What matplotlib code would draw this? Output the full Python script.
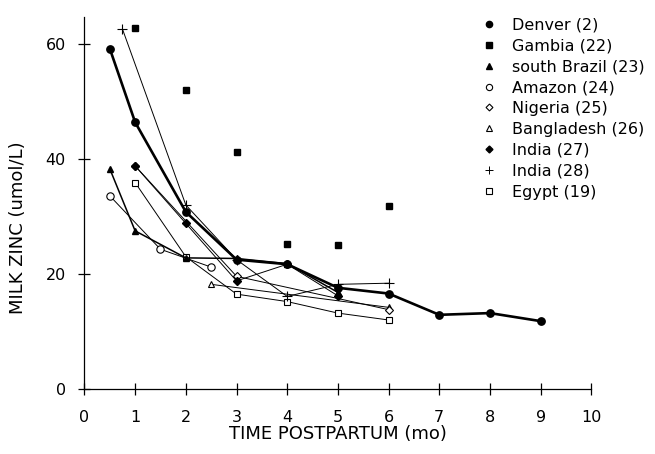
import matplotlib
matplotlib.use('Agg')
import matplotlib.pyplot as plt
from matplotlib.lines import Line2D

plt.rcParams['font.family'] = ['DejaVu Sans']

# time postpartum (mo) and milk zinc (umol/L) per study
denver_x = [0.5, 1, 2, 3, 4, 5, 6, 7, 8, 9]
denver_y = [59.2, 46.4, 30.8, 22.5, 21.7, 17.6, 16.6, 12.9, 13.2, 11.8]
gambia_x = [1, 2, 3, 4, 5, 6]
gambia_y = [62.8, 52.0, 41.2, 25.2, 25.0, 31.9]
sbrazil_x = [0.5, 1, 2, 3, 4, 5]
sbrazil_y = [38.3, 27.5, 22.8, 22.7, 21.8, 16.8]
amazon_x = [0.5, 1.5, 2.5]
amazon_y = [33.6, 24.3, 21.2]
nigeria_x = [1, 3, 6]
nigeria_y = [38.8, 19.6, 13.8]
bangla_x = [2.5, 6]
bangla_y = [18.2, 14.2]
india27_x = [1, 2, 3, 4, 5]
india27_y = [38.8, 28.8, 18.8, 21.7, 16.2]
india28_x = [0.75, 2, 3, 4, 5, 6]
india28_y = [62.6, 32.0, 22.5, 16.1, 18.2, 18.4]
egypt_x = [1, 2, 3, 4, 5, 6]
egypt_y = [35.9, 23.0, 16.5, 15.2, 13.2, 12.0]

labels = ['Denver (2)', 'Gambia (22)', 'south Brazil (23)', 'Amazon (24)', 'Nigeria (25)',
          'Bangladesh (26)', 'India (27)', 'India (28)', 'Egypt (19)']

FS = 11.5

fig = plt.figure(figsize=(6.55, 4.54), dpi=100)
ax = fig.add_axes([0.1289, 0.1432, 0.774, 0.8194])

thin = dict(color='black', lw=0.7)
ax.plot(egypt_x, egypt_y, marker='s', ms=4.5, mfc='white', mec='black', mew=0.8, **thin)
ax.plot(bangla_x, bangla_y, marker='^', ms=5, mfc='white', mec='black', mew=0.8, **thin)
ax.plot(nigeria_x, nigeria_y, marker='D', ms=4.2, mfc='white', mec='black', mew=0.8, **thin)
ax.plot(amazon_x, amazon_y, marker='o', ms=5.3, mfc='white', mec='black', mew=0.8, **thin)
ax.plot(india28_x, india28_y, marker='+', ms=7, mec='black', mew=0.8, **thin)
ax.plot(india27_x, india27_y, marker='D', ms=4.2, mfc='black', mec='black', **thin)
ax.plot(sbrazil_x, sbrazil_y, marker='^', ms=5, color='black', lw=1.1)
ax.plot(gambia_x, gambia_y, marker='s', ms=4.4, ls='none', color='black')
ax.plot(denver_x, denver_y, marker='o', ms=5.3, color='black', lw=1.9)

ax.set_xlim(0, 10)
ax.set_ylim(0, 64.7)
ax.set_xticks(range(0, 11))
ax.set_yticks([0, 20, 40, 60])
ax.spines['top'].set_visible(False)
ax.spines['right'].set_visible(False)
for s in ('left', 'bottom'):
    ax.spines[s].set_linewidth(0.9)
ax.tick_params(direction='inout', length=8, width=0.9, labelsize=FS)
ax.tick_params(axis='x', pad=11)
ax.tick_params(axis='y', pad=9.5)
ax.set_xlabel('TIME POSTPARTUM (mo)', fontsize=13, labelpad=0)
ax.set_ylabel('MILK ZINC (umol/L)', fontsize=13)
ax.yaxis.set_label_coords(-0.113, 0.433)

handles = [
    Line2D([], [], ls='none', marker='o', ms=4.5, color='black'),
    Line2D([], [], ls='none', marker='s', ms=3.8, color='black'),
    Line2D([], [], ls='none', marker='^', ms=4.5, color='black'),
    Line2D([], [], ls='none', marker='o', ms=4.5, mfc='white', mec='black', mew=0.8),
    Line2D([], [], ls='none', marker='D', ms=3.5, mfc='white', mec='black', mew=0.8),
    Line2D([], [], ls='none', marker='^', ms=4.5, mfc='white', mec='black', mew=0.8),
    Line2D([], [], ls='none', marker='D', ms=3.5, color='black'),
    Line2D([], [], ls='none', marker='+', ms=5.5, mec='black', mew=0.7),
    Line2D([], [], ls='none', marker='s', ms=3.8, mfc='white', mec='black', mew=0.8),
]
leg = ax.legend(handles, labels, loc='upper left', bbox_to_anchor=(0.773, 1.016),
                frameon=False, fontsize=FS, handlelength=0.8, handletextpad=1.05,
                labelspacing=0.37, borderaxespad=0.0)

fig.savefig('out.png', dpi=100)
